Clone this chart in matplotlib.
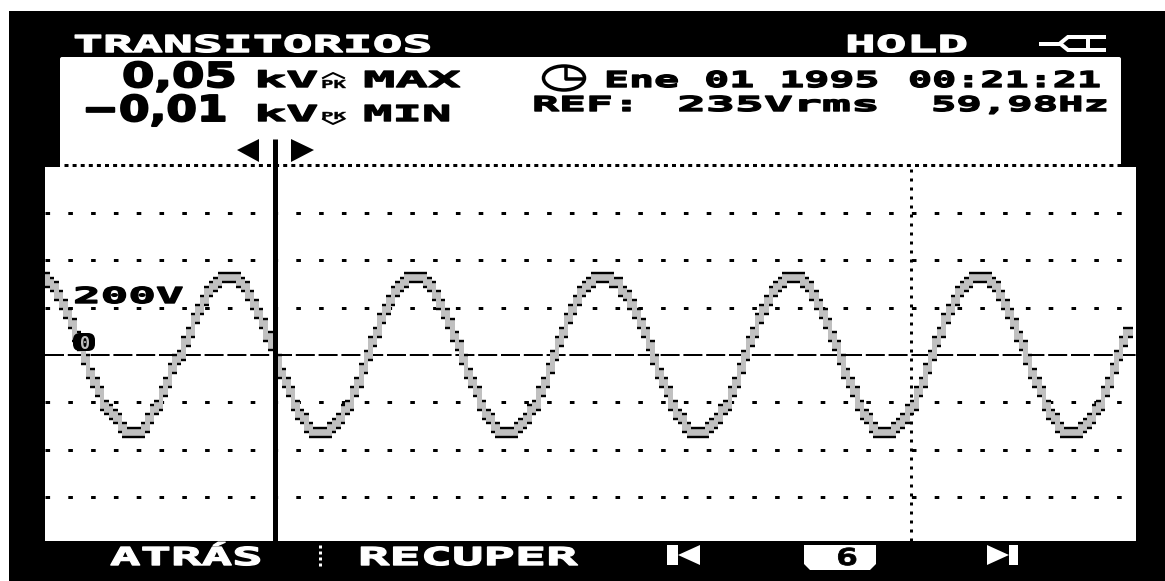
import numpy as np
import matplotlib
matplotlib.use("Agg")
import matplotlib.pyplot as plt
from matplotlib.patches import Rectangle, Polygon, Ellipse, FancyBboxPatch
from matplotlib.patheffects import AbstractPathEffect
from matplotlib.transforms import Affine2D

plt.rcParams['lines.scale_dashes'] = False

# ---- data (volts per display column)
wave_part_0 = [326,307,288,250,211,173,134,77,38,-19,-77,-115,-154,-211,-230,-250,-269,-307,-326,-326,-326,-326,-307,-269,-230,-211,-154,-115,-58]
wave_part_1 = [-19,0,58,96,154,192,230,269,288,307,326,326,326,326,307,288,250,211,173,134,77,38,-19,-77,-115,-154,-211,-250,-269,-307,-326,-326,-326,-326,-307,-288,-269,-230,-211,-154,-115,-58]
wave_part_2 = [0,58,96,154,192,230,269,288,307,326,326,326,326,307,288,250,211,173,134,77,38,-19,-77,-115,-154,-211,-250,-269,-307,-326,-326,-326,-326,-307,-288,-269,-230,-211,-154,-115,-58]
wave_part_3 = [0,58,96,154,192,230,269,288,307,326,326,326,326,307,307,269,250,211,173,134,96,38,-19,-77,-115,-154,-211,-250,-269,-307,-326,-326,-326,-326,-307,-288,-269,-230,-211,-154,-115,-58]
wave_part_4 = [0,58,96,154,192,230,269,288,307,326,326,326,326,307,288,250,211,173,134,77,38,-19,-77,-115,-154,-211,-250,-269,-307,-326,-326,-326,-326,-307,-288,-269,-230,-211,-154,-115,-58]
wave_part_5 = [0,58,96,154,192,230,269,288,307,326,326,326,326,307,288,250,211,173,134,77,38,-19,-77,-115,-154,-211,-250,-269,-307,-326,-326,-326,-326,-307,-288,-269,-230,-211,-154,-115,-58]
wave_part_6 = [0,58,96]
grid_volts = [-600,-400,-200,200,400,600]
zero_volts = 0
cursor_ms = 20.4
marker_ms = 77.0
sample_ms = 0.4045
title_text = "TRANSITORIOS"
hold_text = "HOLD"
max_value = "0,05"
min_value = "\u22120,01"
date_text = "Ene 01 1995"
time_text = "00:21:21"
ref_text = "REF:"
vrms_text = "235Vrms"
freq_text = "59,98Hz"
scale_label = "200V"
zero_label = "0"
softkeys = ["ATR\u00c1S", "RECUPER"]
page_label = "6"

W, H = 1165, 581
fig = plt.figure(figsize=(W/100, H/100), dpi=100, facecolor='white')

# pixel-space backdrop axes
bg = fig.add_axes([0, 0, 1, 1], zorder=0)
bg.set_xlim(0, W); bg.set_ylim(H, 0); bg.axis('off')
bg.add_patch(Rectangle((9, 11), W-9, H-11, fc='black', ec='none'))
bg.add_patch(FancyBboxPatch((60, 57), 1061, 112, boxstyle="round,pad=0,rounding_size=2", fc='white', ec='none'))
bg.add_patch(Rectangle((45, 167), 1091, 374, fc='white', ec='none'))

# scope area
PX0, PX1, PY0, PY1 = 45, 1136, 167, 541
ax = fig.add_axes([PX0/W, 1-PY1/H, (PX1-PX0)/W, (PY1-PY0)/H], zorder=1)
ax.patch.set_alpha(0)
px_per_ms = 11.25
px_per_volt = 47.4/200
ax.set_xlim(0, (PX1-PX0)/px_per_ms)
ax.set_ylim(-(PY1-355)/px_per_volt, (355-PY0)/px_per_volt)
ax.axis('off')

px = 0.72  # points per pixel at dpi 100
ax.hlines(grid_volts, 0, 97, color='black', lw=3*px, linestyles=[(0, (4.6*px, 18.2*px))])
ax.hlines([zero_volts], 0, 97, color='black', lw=2*px, linestyles=[(0, (19*px, 3.8*px))])
ax.vlines([marker_ms], -785, 793, color='black', lw=3*px, linestyles=[(0, (3*px, 6*px))])

# persistence band of the waveform
wave = np.array(wave_part_0+wave_part_1+wave_part_2+wave_part_3+wave_part_4+wave_part_5+wave_part_6, float)
t = 0.2 + sample_ms*np.arange(len(wave))
margin = 4.5/px_per_volt
nxt = np.r_[wave[1:], wave[-1]]
top = np.maximum(wave, nxt) + margin
bot = np.minimum(wave, nxt) - margin
ax.bar(t, top-bot, bottom=bot, width=sample_ms, color='#c0c0c0', lw=0, zorder=3)
ax.hlines(top, t-sample_ms/2, t+sample_ms/2, color='black', lw=2.4*px, zorder=4)
ax.hlines(bot, t-sample_ms/2, t+sample_ms/2, color='black', lw=2.4*px, zorder=4)
# cursor
ax.vlines([cursor_ms], -785, 911, color='black', lw=5*px, clip_on=False, zorder=6)

# overlay in pixels
ov = fig.add_axes([0, 0, 1, 1], zorder=2)
ov.set_xlim(0, W); ov.set_ylim(H, 0); ov.axis('off'); ov.patch.set_alpha(0)
ov.plot([64, 1122], [165, 165], color='black', lw=3*px, ls=(0, (4*px, 4.1*px)))

renderer = fig.canvas.get_renderer()

class Stretch(AbstractPathEffect):
    def __init__(self, x0, sx, stroke):
        super().__init__()
        self.x0, self.sx, self.stroke = x0, sx, stroke
    def draw_path(self, renderer, gc, tpath, affine, rgbFace=None):
        aff = affine + Affine2D().translate(-self.x0, 0).scale(self.sx, 1).translate(self.x0, 0)
        gc0 = renderer.new_gc()
        gc0.copy_properties(gc)
        gc0.set_foreground(rgbFace)
        gc0.set_linewidth(self.stroke)
        renderer.draw_path(gc0, tpath, aff, rgbFace)
        gc0.restore()

def lcd(s, x0, x1, ytop, ybase, color='black', family='DejaVu Sans Mono', stroke=1.0, zorder=5):
    size_px = (ybase-ytop)/0.73
    tx = ov.text(x0, ybase, s, color=color, family=family, fontweight='bold',
                 fontsize=size_px*px, ha='left', va='baseline', zorder=zorder)
    ext = tx.get_window_extent(renderer)
    tx.set_path_effects([Stretch(x0, (x1-x0)/ext.width, stroke)])
    return tx

lcd(title_text, 73, 432, 35, 52, 'white')
lcd(hold_text, 845, 968, 35, 52, 'white')
lcd(max_value, 122, 237, 62, 87, family='DejaVu Sans', stroke=1.4)
lcd(min_value, 82, 228, 95, 121, family='DejaVu Sans', stroke=1.4)
lcd("kV", 254, 318, 71, 87)
lcd("kV", 254, 318, 105, 121)
lcd("MAX", 363, 460, 71, 87)
lcd("MIN", 363, 451, 105, 121)
lcd(date_text, 604, 878, 71, 87)
lcd(time_text, 908, 1100, 71, 87)
lcd(ref_text, 532, 640, 96, 111)
lcd(vrms_text, 677, 880, 96, 111)
lcd(freq_text, 931, 1109, 96, 111)
lcd(scale_label, 73, 183, 287, 303)
lcd(softkeys[0], 110, 263, 547, 565, 'white')
lcd(softkeys[1], 358, 578, 547, 565, 'white')

# PK glyphs
lcd("PK", 321, 346, 80, 88, stroke=0.3)
lcd("PK", 321, 346, 112, 119, stroke=0.3)
ov.plot([323, 333, 344], [78, 73, 78], color='black', lw=2*px)
ov.plot([323, 333, 344], [119, 124, 119], color='black', lw=2*px)

# zero label blob
ov.add_patch(FancyBboxPatch((73, 333), 22, 18, boxstyle="round,pad=0,rounding_size=7", fc='black', ec='none', zorder=4))
ov.text(85, 349, zero_label, color='#c0c0c0', family='DejaVu Sans Mono', fontweight='bold',
        fontsize=12, ha='center', va='baseline', zorder=5)

# clock
ov.add_patch(Ellipse((564, 78), 41, 24, fc='white', ec='black', lw=3.5*px))
ov.plot([566, 566, 582], [68, 79, 79], color='black', lw=3.5*px)

# plug icon
ov.plot([1041, 1060], [43.5, 43.5], color='white', lw=4*px)
ov.add_patch(Polygon([[1060, 43.5], [1068, 37], [1088, 37], [1088, 50], [1068, 50]], closed=True, fc='black', ec='white', lw=4*px))
ov.plot([1088, 1104], [37, 37], color='white', lw=4*px)
ov.plot([1088, 1104], [50, 50], color='white', lw=4*px)

# cursor arrows
ov.add_patch(Polygon([[237, 150], [259, 139], [259, 162]], closed=True, fc='black', ec='none'))
ov.add_patch(Polygon([[291, 139], [291, 162], [314, 150]], closed=True, fc='black', ec='none'))

# softkey decoration
ov.plot([320, 320], [545, 566], color='white', lw=3*px, ls=(0, (3*px, 3*px)))
ov.add_patch(Rectangle((667, 545), 11, 20, fc='white', ec='none'))
ov.add_patch(Polygon([[678, 555], [700, 545], [700, 565]], closed=True, fc='white', ec='none'))
ov.add_patch(Rectangle((1009, 545), 9, 20, fc='white', ec='none'))
ov.add_patch(Polygon([[987, 545], [987, 565], [1009, 555]], closed=True, fc='white', ec='none'))
ov.add_patch(Polygon([[804, 545], [876, 545], [876, 564], [870, 570], [810, 570], [804, 564]], closed=True, fc='white', ec='none'))
lcd(page_label, 836, 858, 548, 565, 'black', stroke=0.6)

fig.savefig('out.png', dpi=100, facecolor='white')
